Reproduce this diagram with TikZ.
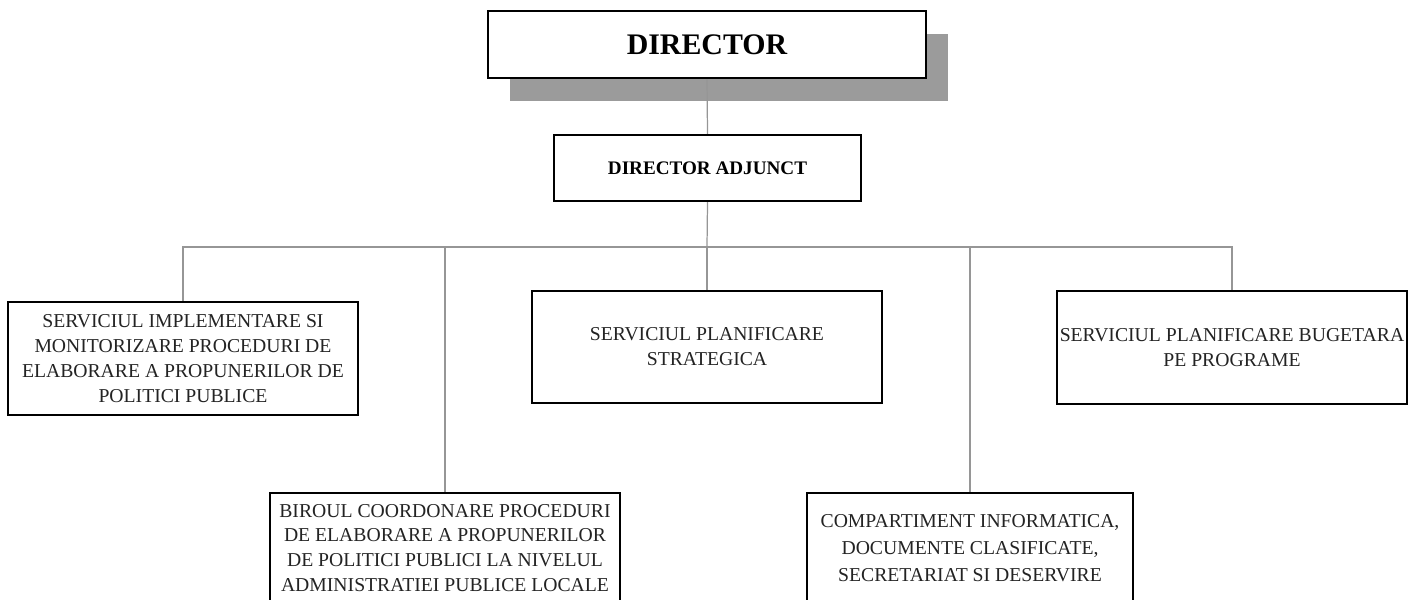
\documentclass[tikz,border=0pt]{standalone}
\usepackage{fontspec}
\setmainfont{Liberation Serif}
\usepackage{tikz}
\usetikzlibrary{shadows}
\definecolor{shadegray}{RGB}{155,155,155}
\definecolor{linkgray}{RGB}{150,150,150}
\definecolor{inkgray}{RGB}{35,35,35}
\tikzset{unit box/.style 2 args={
    draw=black,
    line width=1.3pt,
    fill=white,
    minimum width=#1,
    minimum height=#2,
    align=center,
    inner sep=0pt,
    text=inkgray,
    font=\fontsize{11.2}{14.2}\selectfont
  },
  unit box/.default={7cm}{2.26cm},
  link/.style={draw=linkgray, line width=0.7pt}
}

\begin{document}
\begin{tikzpicture}[x=0.02cm, y=-0.02cm]
  \useasboundingbox (0,0) rectangle (1412,599);
  \clip (0,0) rectangle (1412,599);
  % top of the chart
  \node[unit box={8.76cm}{1.34cm}, text=black,
        font=\fontsize{17}{19}\selectfont\bfseries,
        drop shadow={shadow xshift=0.44cm, shadow yshift=-0.46cm,
                     fill=shadegray, opacity=1}]
        (Director) at (707,44.5) {DIRECTOR};
  \node[unit box={6.14cm}{1.32cm}, text=black,
        font=\fontsize{10.9}{13}\selectfont\bfseries]
        (Adjunct) at (707.5,168) {DIRECTOR ADJUNCT};
  % services
  \node[unit box={7cm}{2.26cm}] (Implementare) at (183,358.5)
    {SERVICIUL IMPLEMENTARE SI\\MONITORIZARE PROCEDURI DE\\ELABORARE A PROPUNERILOR DE\\POLITICI PUBLICE};
  \node[unit box={7cm}{2.24cm}] (Strategica) at (707,347)
    {SERVICIUL PLANIFICARE\\STRATEGICA};
  \node[unit box={7cm}{2.26cm}] (Bugetara) at (1232,347.5)
    {SERVICIUL PLANIFICARE BUGETARA\\PE PROGRAME};
  \node[unit box={7cm}{2.2cm}] (Biroul) at (445,548)
    {BIROUL COORDONARE PROCEDURI\\DE ELABORARE A PROPUNERILOR\\DE POLITICI PUBLICI LA NIVELUL\\ADMINISTRATIEI PUBLICE LOCALE};
  \node[unit box={6.52cm}{2.2cm}, font=\fontsize{11.2}{15.4}\selectfont] (Compartiment) at (970,548)
    {COMPARTIMENT INFORMATICA,\\DOCUMENTE CLASIFICATE,\\SECRETARIAT SI DESERVIRE};
  % links
  \coordinate (Bus) at (707,247);
  \draw[link] (Director.south) -- (Adjunct.north);
  \draw[link] (Adjunct.south) -- (Bus);
  \draw[link] (Implementare.north) |- (Bus) -| (Bugetara.north);
  \draw[link] (Bus) -- (Strategica.north);
  \draw[link] (Biroul.north) -- (Biroul.north |- Bus);
  \draw[link] (Compartiment.north) -- (Compartiment.north |- Bus);
\end{tikzpicture}
\end{document}
